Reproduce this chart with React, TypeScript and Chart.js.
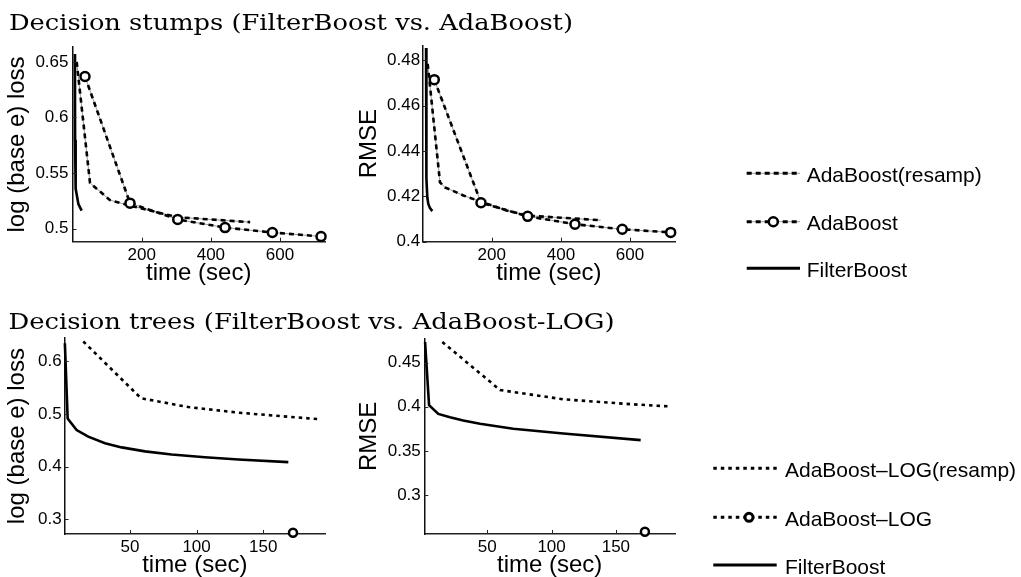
import React, { useEffect, useRef } from "react";
import { Chart, registerables } from "chart.js";

Chart.register(...registerables);

// ---------------- data ----------------
const titleStumps = "Decision stumps (FilterBoost vs. AdaBoost)";
const titleTrees = "Decision trees (FilterBoost vs. AdaBoost-LOG)";
const xTitle = "time (sec)";
const lossTitle = "log (base e) loss";
const rmseTitle = "RMSE";

const stumpLegendLabels = ["AdaBoost(resamp)", "AdaBoost", "FilterBoost"];
const treeLegendLabels = ["AdaBoost\u2013LOG(resamp)", "AdaBoost\u2013LOG", "FilterBoost"];

const stumpXTicks = [200, 400, 600];
const stumpXTickLabels = ["200", "400", "600"];
const treeXTicks = [50, 100, 150];
const treeXTickLabels = ["50", "100", "150"];

const stumpLossYTicks = [0.5, 0.55, 0.6, 0.65];
const stumpLossYTickLabels = ["0.5", "0.55", "0.6", "0.65"];
const stumpRmseYTicks = [0.4, 0.42, 0.44, 0.46, 0.48];
const stumpRmseYTickLabels = ["0.4", "0.42", "0.44", "0.46", "0.48"];
const treeLossYTicks = [0.3, 0.4, 0.5, 0.6];
const treeLossYTickLabels = ["0.3", "0.4", "0.5", "0.6"];
const treeRmseYTicks = [0.3, 0.35, 0.4, 0.45];
const treeRmseYTickLabels = ["0.3", "0.35", "0.4", "0.45"];

// Decision stumps, log loss
const stumpLossFilterTime = [7, 7.2, 7.5, 8.2, 10, 12, 17, 26.5];
const stumpLossFilter = [0.657, 0.62, 0.58, 0.5426, 0.536, 0.5309, 0.5221, 0.5162];
const stumpLossResampTime = [12.1, 50.6, 108.4, 166.3, 304.2, 513.6];
const stumpLossResamp = [0.65, 0.5411, 0.5256, 0.5206, 0.5102, 0.5058];
const stumpLossAdaTime = [36.1, 166.3, 304.2, 441, 577.8, 718.6];
const stumpLossAda = [0.6368, 0.5229, 0.5082, 0.5009, 0.4965, 0.4929];

// Decision stumps, RMSE
const stumpRmseFilterTime = [10, 10.3, 10.7, 12, 13.6, 16.5, 21.4, 28];
const stumpRmseFilter = [0.4855, 0.465, 0.4444, 0.428, 0.4196, 0.4167, 0.4148, 0.4135];
const stumpRmseResampTime = [14.7, 50.3, 64.5, 117.8, 166, 243, 304, 515];
const stumpRmseResamp = [0.4785, 0.4262, 0.424, 0.4204, 0.4178, 0.4138, 0.4115, 0.4095];
const stumpRmseAdaTime = [33.8, 168.9, 303.9, 440.7, 577.5, 717.5];
const stumpRmseAda = [0.4715, 0.4172, 0.4112, 0.4077, 0.4055, 0.4041];

// Decision trees, log loss
const treeLossFilterTime = [1.2, 3.3, 10, 18.75, 31.3, 43.8, 61.3, 81.3, 106.3, 131.3, 168.8];
const treeLossFilter = [0.634, 0.491, 0.4693, 0.4568, 0.4443, 0.4363, 0.4288, 0.4227, 0.4176, 0.4133, 0.4083];
const treeLossResampTime = [15, 58.3, 93.8, 131.3, 191.3];
const treeLossResamp = [0.6373, 0.5296, 0.5128, 0.5022, 0.4899];
const treeLossAdaTime = [172.3];
const treeLossAda = [0.2744];

// Decision trees, RMSE
const treeRmseFilterTime = [1.6, 4.7, 11.9, 21, 31.3, 44.3, 70.2, 109.1, 169.3];
const treeRmseFilter = [0.4733, 0.4018, 0.3918, 0.3881, 0.3844, 0.3807, 0.3751, 0.3696, 0.3622];
const treeRmseResampTime = [15, 59.9, 109.1, 161, 192];
const treeRmseResamp = [0.4733, 0.4189, 0.4084, 0.4029, 0.4003];
const treeRmseAdaTime = [172.6];
const treeRmseAda = [0.2584];

// ---------------- helpers ----------------
const SANS = "'Liberation Sans', Arial, Helvetica, sans-serif";

const zip = (xs: number[], ys: number[]) => xs.map((x, i) => ({ x, y: ys[i] }));

const solid = (xs: number[], ys: number[]) => ({
  data: zip(xs, ys),
  showLine: true,
  borderColor: "#000",
  borderWidth: 2.6,
  pointRadius: 0,
  tension: 0,
  clip: false as any,
  order: 1,
});

const dashDot = (xs: number[], ys: number[]) => [
  {
    data: zip(xs, ys),
    showLine: true,
    borderColor: "#000",
    borderWidth: 2.6,
    borderDash: [5, 4],
    pointRadius: 0,
    tension: 0,
    clip: false as any,
    order: 2,
  },
  {
    data: zip(xs, ys),
    showLine: true,
    borderColor: "#9a9a9a",
    borderWidth: 1,
    pointRadius: 0,
    tension: 0,
    clip: false as any,
    order: 5,
  },
];

const dotted = (xs: number[], ys: number[]) => ({
  data: zip(xs, ys),
  showLine: true,
  borderColor: "#000",
  borderWidth: 2.6,
  borderDash: [3.5, 4],
  pointRadius: 0,
  tension: 0,
  clip: false as any,
  order: 2,
});

const markers = (xs: number[], ys: number[], r: number) => ({
  data: zip(xs, ys),
  showLine: false,
  pointRadius: r,
  pointBorderWidth: 2.5,
  pointBorderColor: "#000",
  pointBackgroundColor: "#fff",
  clip: false as any,
  order: 0,
});

const innerTicks = {
  id: "innerTicks",
  afterDatasetsDraw(chart: any) {
    const { ctx, chartArea, scales } = chart;
    ctx.save();
    ctx.strokeStyle = "#222";
    ctx.lineWidth = 1;
    scales.x.ticks.forEach((t: any) => {
      const px = Math.round(scales.x.getPixelForValue(t.value)) + 0.5;
      ctx.beginPath();
      ctx.moveTo(px, chartArea.bottom);
      ctx.lineTo(px, chartArea.bottom - 4);
      ctx.stroke();
    });
    scales.y.ticks.forEach((t: any) => {
      const py = Math.round(scales.y.getPixelForValue(t.value)) + 0.5;
      ctx.beginPath();
      ctx.moveTo(chartArea.left, py);
      ctx.lineTo(chartArea.left + 4, py);
      ctx.stroke();
    });
    ctx.restore();
  },
};

type Area = { L: number; T: number; R: number; B: number };
type PanelProps = {
  left: number;
  top: number;
  width: number;
  height: number;
  area: Area;
  xMin: number;
  xMax: number;
  yMin: number;
  yMax: number;
  xTicks: number[];
  xTickLabels: string[];
  yTicks: number[];
  yTickLabels: string[];
  yTitle: string;
  yTitleX: number;
  yTickPad: number;
  makeDatasets: () => any[];
};

function Panel(p: PanelProps) {
  const ref = useRef<HTMLCanvasElement>(null);
  useEffect(() => {
    if (!ref.current) return;
    const chart = new Chart(ref.current, {
      type: "scatter",
      data: { datasets: p.makeDatasets() },
      options: {
        animation: false,
        responsive: false,
        devicePixelRatio: 1,
        layout: {
          padding: {
            left: 0,
            top: p.area.T - p.top,
            right: p.left + p.width - p.area.R,
            bottom: 0,
          },
        },
        plugins: { legend: { display: false }, tooltip: { enabled: false } },
        scales: {
          x: {
            type: "linear",
            min: p.xMin,
            max: p.xMax,
            grid: { display: false, drawTicks: false },
            border: { display: true, color: "#222", width: 1.5 },
            ticks: {
              padding: 3,
              color: "#000",
              autoSkip: false,
              maxRotation: 0,
              font: { family: SANS, size: 17, lineHeight: 1.2 },
              callback: (_v: any, i: number) => p.xTickLabels[i],
            },
            afterBuildTicks: (s: any) => {
              s.ticks = p.xTicks.map((v) => ({ value: v }));
            },
            afterFit: (s: any) => {
              s.height = p.top + p.height - p.area.B;
            },
            title: {
              display: true,
              text: xTitle,
              color: "#000",
              font: { family: SANS, size: 24, lineHeight: 1.2 },
              padding: { top: 0, bottom: 0 },
            },
          },
          y: {
            type: "linear",
            min: p.yMin,
            max: p.yMax,
            grid: { display: false, drawTicks: false },
            border: { display: true, color: "#111", width: 1.5 },
            ticks: {
              padding: p.yTickPad,
              color: "#000",
              autoSkip: false,
              font: { family: SANS, size: 17, lineHeight: 1.2 },
              callback: (_v: any, i: number) => p.yTickLabels[i],
            },
            afterBuildTicks: (s: any) => {
              s.ticks = p.yTicks.map((v) => ({ value: v }));
            },
            afterFit: (s: any) => {
              s.width = p.area.L - p.left;
            },
            title: {
              display: true,
              text: p.yTitle,
              color: "#000",
              font: { family: SANS, size: 24, lineHeight: 1.2 },
              padding: { top: p.yTitleX - p.left - 14.4, bottom: 0 },
            },
          },
        },
      } as any,
      plugins: [innerTicks],
    });
    return () => chart.destroy();
  }, []);
  return (
    <canvas
      ref={ref}
      width={p.width}
      height={p.height}
      style={{ position: "absolute", left: p.left, top: p.top, width: p.width, height: p.height }}
    />
  );
}

function DashDotSample({ x1, x2, y }: { x1: number; x2: number; y: number }) {
  return (
    <g>
      <line x1={x1} x2={x2} y1={y} y2={y} stroke="#9a9a9a" strokeWidth={1} />
      <line x1={x1} x2={x2} y1={y} y2={y} stroke="#000" strokeWidth={3} strokeDasharray="5 4" />
    </g>
  );
}

export default function App() {
  const topRows = [173.3, 221.7, 268.3];
  const botRows = [468.3, 517.3, 565];
  return (
    <div
      style={{
        position: "fixed",
        left: 0,
        top: 0,
        width: 1021,
        height: 577,
        overflow: "hidden",
        background: "#fff",
      }}
    >
      <Panel
        left={0}
        top={33}
        width={340}
        height={255}
        area={{ L: 72.5, T: 43.3, R: 325, B: 241.7 }}
        xMin={0}
        xMax={730}
        yMin={0.4882}
        yMax={0.6632}
        xTicks={stumpXTicks}
        xTickLabels={stumpXTickLabels}
        yTicks={stumpLossYTicks}
        yTickLabels={stumpLossYTickLabels}
        yTitle={lossTitle}
        yTitleX={17.2}
        yTickPad={4}
        makeDatasets={() => [
          markers(stumpLossAdaTime, stumpLossAda, 4.5),
          solid(stumpLossFilterTime, stumpLossFilter),
          ...dashDot(stumpLossResampTime, stumpLossResamp),
          ...dashDot(stumpLossAdaTime, stumpLossAda),
        ]}
      />
      <Panel
        left={345}
        top={33}
        width={340}
        height={255}
        area={{ L: 422.6, T: 43.3, R: 675, B: 241.7 }}
        xMin={0}
        xMax={730}
        yMin={0.4}
        yMax={0.4865}
        xTicks={stumpXTicks}
        xTickLabels={stumpXTickLabels}
        yTicks={stumpRmseYTicks}
        yTickLabels={stumpRmseYTickLabels}
        yTitle={rmseTitle}
        yTitleX={369.5}
        yTickPad={2.5}
        makeDatasets={() => [
          markers(stumpRmseAdaTime, stumpRmseAda, 4.5),
          solid(stumpRmseFilterTime, stumpRmseFilter),
          ...dashDot(stumpRmseResampTime, stumpRmseResamp),
          ...dashDot(stumpRmseAdaTime, stumpRmseAda),
        ]}
      />
      <Panel
        left={0}
        top={325}
        width={340}
        height={255}
        area={{ L: 64.6, T: 335, R: 325, B: 534 }}
        xMin={1}
        xMax={196.3}
        yMin={0.272}
        yMax={0.6435}
        xTicks={treeXTicks}
        xTickLabels={treeXTickLabels}
        yTicks={treeLossYTicks}
        yTickLabels={treeLossYTickLabels}
        yTitle={lossTitle}
        yTitleX={17.2}
        yTickPad={3}
        makeDatasets={() => [
          markers(treeLossAdaTime, treeLossAda, 4),
          solid(treeLossFilterTime, treeLossFilter),
          dotted(treeLossResampTime, treeLossResamp),
        ]}
      />
      <Panel
        left={345}
        top={325}
        width={340}
        height={255}
        area={{ L: 424.3, T: 335, R: 675, B: 534 }}
        xMin={1}
        xMax={196}
        yMin={0.2559}
        yMax={0.477}
        xTicks={treeXTicks}
        xTickLabels={treeXTickLabels}
        yTicks={treeRmseYTicks}
        yTickLabels={treeRmseYTickLabels}
        yTitle={rmseTitle}
        yTitleX={369.5}
        yTickPad={3.5}
        makeDatasets={() => [
          markers(treeRmseAdaTime, treeRmseAda, 4),
          solid(treeRmseFilterTime, treeRmseFilter),
          dotted(treeRmseResampTime, treeRmseResamp),
        ]}
      />
      <svg
        width={1021}
        height={577}
        style={{ position: "absolute", left: 0, top: 0, pointerEvents: "none" }}
      >
        <text
          x={9}
          y={30}
          fontFamily="'DejaVu Serif', serif"
          fontSize={22}
          textLength={564}
          lengthAdjust="spacingAndGlyphs"
          fill="#000"
        >
          {titleStumps}
        </text>
        <text
          x={8.5}
          y={329.3}
          fontFamily="'DejaVu Serif', serif"
          fontSize={22}
          textLength={606}
          lengthAdjust="spacingAndGlyphs"
          fill="#000"
        >
          {titleTrees}
        </text>

        {/* stumps legend */}
        <DashDotSample x1={746.7} x2={800} y={topRows[0]} />
        <DashDotSample x1={746.7} x2={800} y={topRows[1]} />
        <circle cx={773.3} cy={topRows[1]} r={4.5} fill="#fff" stroke="#000" strokeWidth={2.5} />
        <line x1={746.7} x2={800} y1={topRows[2]} y2={topRows[2]} stroke="#000" strokeWidth={3} />
        {stumpLegendLabels.map((t, i) => (
          <text key={t} x={806.7} y={topRows[i] + 8.5} fontFamily={SANS} fontSize={21} fill="#000">
            {t}
          </text>
        ))}

        {/* trees legend */}
        <line x1={713.3} x2={776.7} y1={botRows[0]} y2={botRows[0]} stroke="#000" strokeWidth={3} strokeDasharray="3.5 4" />
        <line x1={713.3} x2={776.7} y1={botRows[1]} y2={botRows[1]} stroke="#000" strokeWidth={3} strokeDasharray="3.5 4" />
        <circle cx={749} cy={botRows[1]} r={4} fill="#fff" stroke="#000" strokeWidth={3} />
        <line x1={713.3} x2={776.7} y1={botRows[2]} y2={botRows[2]} stroke="#000" strokeWidth={3} />
        {treeLegendLabels.map((t, i) => (
          <text key={t} x={785} y={botRows[i] + 8.5} fontFamily={SANS} fontSize={21} fill="#000">
            {t}
          </text>
        ))}
      </svg>
    </div>
  );
}
